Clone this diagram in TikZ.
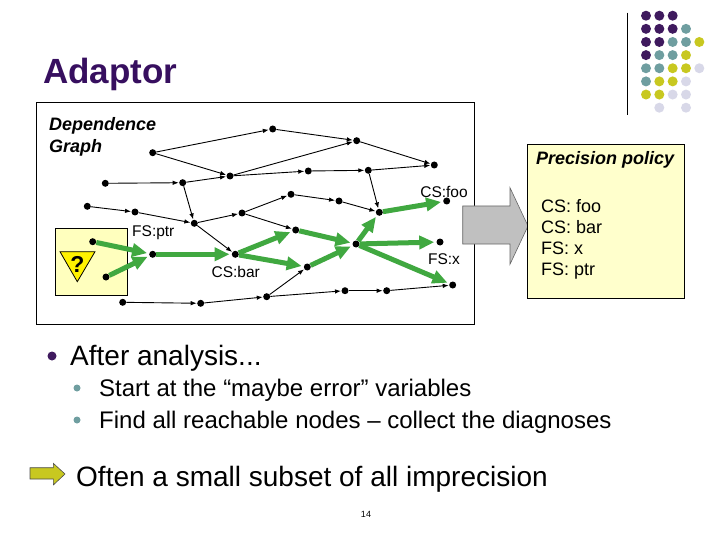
\documentclass[tikz,border=0pt]{standalone}
\usepackage{fontspec}
\setmainfont{Liberation Sans}
\usetikzlibrary{arrows.meta}
\definecolor{ttl}{RGB}{55,15,95}
\definecolor{dpurple}{RGB}{63,26,94}
\definecolor{dteal}{RGB}{111,158,160}
\definecolor{dyellow}{RGB}{200,200,32}
\definecolor{dlav}{RGB}{216,216,232}
\definecolor{gedge}{RGB}{64,168,64}
\definecolor{lyellow}{RGB}{255,255,204}
\definecolor{qyellow}{RGB}{255,255,190}
\definecolor{garrow}{RGB}{192,192,192}
\tikzset{
  gn/.style={circle,fill=black,inner sep=0pt,minimum size=7pt},
  be/.style={-{Latex[length=6pt,width=4.5pt]},line width=0.9pt,shorten >=0.3pt},
  ge/.style={-{Triangle[length=15pt,width=13pt]},line width=5pt,gedge,shorten >=2pt},
  glabel/.style={anchor=base,inner sep=0pt,font=\fontsize{15.5}{18}\selectfont},
  ptext/.style={anchor=base west,inner sep=0pt,font=\fontsize{18}{21}\selectfont},
  dot/.style={circle,inner sep=0pt,minimum size=10pt},
}
\begin{document}
\begin{tikzpicture}[x=1pt,y=-1pt]
\useasboundingbox (0,0) rectangle (720,540);
% decoration
\draw[line width=1pt] (627.3,12.7) -- (627.3,115);
\foreach \r/\row in {0/{1,1,1},1/{1,1,1,2},2/{1,1,2,2,3},3/{1,2,2,3},4/{2,2,3,3,4},5/{2,3,3,4},6/{3,3,4,4}}{
  \foreach \c [count=\i from 0] in \row {
    \ifcase\c\or\def\cc{dpurple}\or\def\cc{dteal}\or\def\cc{dyellow}\or\def\cc{dlav}\fi
    \node[dot,fill=\cc] (d\r\i) at (646+13.33*\i,15.7+13.14*\r) {};
  }
}
\node[dot,fill=dlav] (d71) at (659.3,107.7) {};
\node[dot,fill=dlav] (d73) at (686,107.7) {};
% title
\node[anchor=base west,inner sep=0pt,text=ttl,font=\fontsize{35}{40}\selectfont\bfseries] (title) at (43,83.3) {Adaptor};
% graph frame
\draw[line width=0.8pt,fill=white] (36,102) rectangle (474,324);
\node[anchor=base west,inner sep=0pt,font=\fontsize{18}{21}\selectfont\bfseries\itshape] (dg1) at (49,130.5) {Dependence};
\node[anchor=base west,inner sep=0pt,font=\fontsize{18}{21}\selectfont\bfseries\itshape] (dg2) at (49,152.5) {Graph};
% maybe-error box
\draw[fill=qyellow,line width=0.6pt] (55,228.3) rectangle (127.3,295.7);
\draw[fill=yellow,line width=0.8pt] (60,251.7) -- (95,251.7) -- (77.3,281.7) -- cycle;
\node[inner sep=0pt,font=\fontsize{23}{24}\selectfont\bfseries] (qm) at (77.5,264) {?};
% nodes
\foreach \n/\x/\y in {A/152.7/152.7,B/272.7/129,C/356.7/140.7,D/434.3/165,E/230/176,F/308.3/171,G/368.3/170.3,H/105.3/183.3,I/182.7/182.7,J/87.3/206.3,K/135/212,L/194.3/223.3,M/242/213,N/291/194.3,O/339/201,P/379.3/212.3,Q/446.7/201,R/295.7/230,S/356/244,T/440/242,U/92.7/241.7,V/106/277,W/152.7/254.3,X/235.3/254.3,Y/307.3/267,Z/452.7/285,a/122.7/302.3,b/200.7/303.3,c/266.7/296.7,d/345/290.7,e/386.7/290.7}{
  \node[gn] (\n) at (\x,\y) {};
}
% black edges
\foreach \s/\t in {A/B,A/E,B/C,C/D,E/C,I/E,E/F,F/G,G/D,G/P,H/I,I/L,J/K,K/L,L/M,M/N,N/O,O/P,L/X,M/R,a/b,b/c,c/d,d/e,e/Z,c/Y}{
  \draw[be] (\s) -- (\t);
}
% green edges
\foreach \s/\t in {U/W,V/W,W/X,X/R,X/Y,R/S,Y/S,S/P,S/T,S/Z,P/Q}{
  \draw[ge] (\s) -- (\t);
}
% labels
\node[glabel] (lfoo) at (444,197) {CS:foo};
\node[glabel] (lptr) at (153.3,236.5) {FS:ptr};
\node[glabel] (lbar) at (235.7,277) {CS:bar};
\node[glabel] (lx) at (444,264.5) {FS:x};
% gray arrow
\draw[fill=garrow,draw=black!60,line width=0.6pt] (462.7,206) -- (510,206) -- (510,187.7) -- (528,226) -- (510,264.3) -- (510,244) -- (462.7,244) -- cycle;
% precision policy
\draw[fill=lyellow,line width=0.6pt] (527.7,144) rectangle (684.3,298.3);
\node[anchor=base west,inner sep=0pt,font=\fontsize{18}{21}\selectfont\bfseries\itshape] (pp) at (536,164.5) {Precision policy};
\node[ptext] (p1) at (541,212.5) {CS: foo};
\node[ptext] (p2) at (541,233.5) {CS: bar};
\node[ptext] (p3) at (541,254.5) {FS: x};
\node[ptext] (p4) at (541,275.5) {FS: ptr};
% bullets
\node[circle,fill=dpurple,inner sep=0pt,minimum size=9pt] (b1) at (52,356) {};
\node[anchor=base west,inner sep=0pt,font=\fontsize{28}{32}\selectfont] (t1) at (70,365) {After analysis...};
\node[circle,fill=dteal,inner sep=0pt,minimum size=7pt] (b2) at (77,388) {};
\node[anchor=base west,inner sep=0pt,font=\fontsize{24}{28}\selectfont] (t2) at (99,396) {Start at the “maybe error” variables};
\node[circle,fill=dteal,inner sep=0pt,minimum size=7pt] (b3) at (77,420) {};
\node[anchor=base west,inner sep=0pt,font=\fontsize{24}{28}\selectfont] (t3) at (99,428) {Find all reachable nodes – collect the diagnoses};
\draw[fill=dyellow,draw=black!70,line width=0.6pt] (30,467.7) -- (53.3,467.7) -- (53.3,463.3) -- (65,474) -- (53.3,485) -- (53.3,479) -- (30,479) -- cycle;
\node[anchor=base west,inner sep=0pt,font=\fontsize{28}{32}\selectfont] (t4) at (76,486) {Often a small subset of all imprecision};
\node[inner sep=0pt,font=\fontsize{9}{10}\selectfont] (pg) at (366,514) {14};
\end{tikzpicture}
\end{document}
